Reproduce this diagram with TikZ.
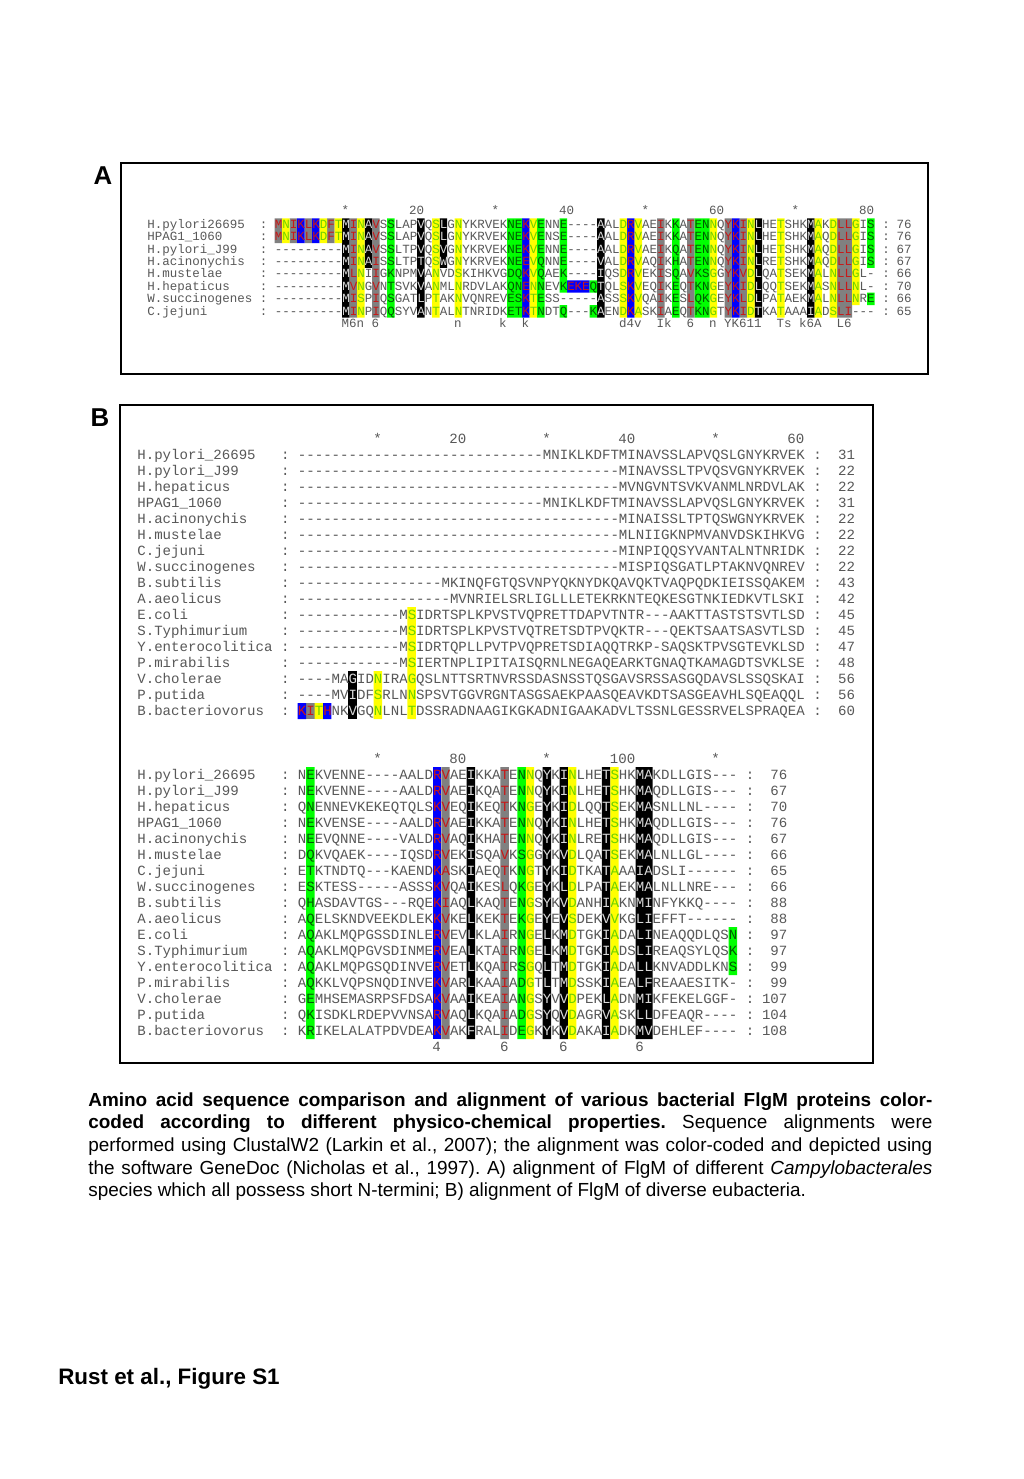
\documentclass[tikz,border=0pt]{standalone}
\usepackage{fontspec}
\setmainfont{Liberation Sans}
\newfontfamily\seqfont{Liberation Mono}[Ligatures=TeXOff]
\frenchspacing

\definecolor{seqtext}{RGB}{88,88,88}
\definecolor{shgrey}{RGB}{128,128,128}
\definecolor{shblue}{RGB}{0,0,255}
\definecolor{shyellow}{RGB}{255,255,0}
\definecolor{shgreen}{RGB}{0,255,0}
\definecolor{txred}{RGB}{200,24,24}
\definecolor{txgreen}{RGB}{110,210,0}
\definecolor{txdkgreen}{RGB}{0,90,0}

\tikzset{
	seqa/.style={font=\seqfont\fontsize{7.26}{8}\selectfont,inner sep=0pt,text=seqtext},
	seqb/.style={font=\seqfont\fontsize{8.18}{9}\selectfont,inner sep=0pt,text=seqtext},
	panel/.style={draw,line width=0.7pt},
	plabel/.style={font=\bfseries\fontsize{15}{18}\selectfont,inner sep=0pt}
}

% gaps and shaded cells
\newcommand\gap[1]{\foreach\i in {1,...,#1}{-}}
\newcommand\cellA[3]{(274.5+7.5*#1,205.9+12.4*#2) rectangle (282+7.5*#1,218.3+12.4*#3)}
\newcommand\cellB[4]{(297.6+8.45*#1,#4-8+16*#2) rectangle (306.05+8.45*#1,#4+8+16*#3)}

% panel A data
\def\namesA{H.pylori26695/76,HPAG1\_1060/76,H.pylori\_J99/67,H.acinonychis/67,H.mustelae/66,H.hepaticus/70,W.succinogenes/66,C.jejuni/65}
\def\seqA{%
MNIKLKDFTMINAVSSLAPVQSLGNYKRVEKNEKVENNE----AALDRVAEIKKATENNQYKINLHETSHKMAKDLLGIS,%
MNIKLKDFTMINAVSSLAPVQSLGNYKRVEKNEKVENSE----AALDRVAEIKKATENNQYKINLHETSHKMAQDLLGIS,%
\gap{9}MINAVSSLTPVQSVGNYKRVEKNEKVENNE----AALDRVAEIKQATENNQYKINLHETSHKMAQDLLGIS,%
\gap{9}MINAISSLTPTQSWGNYKRVEKNEEVQNNE----VALDRVAQIKHATENNQYKINLRETSHKMAQDLLGIS,%
\gap{9}MLNIIGKNPMVANVDSKIHKVGDQKVQAEK----IQSDRVEKISQAVKSGGYKVDLQATSEKMALNLLGL-,%
\gap{9}MVNGVNTSVKVANMLNRDVLAKQNENNEVKEKEQTQLSKVEQIKEQTKNGEYKIDLQQTSEKMASNLLNL-,%
\gap{9}MISPIQSGATLPTAKNVQNREVESKTESS-----ASSSKVQAIKESLQKGEYKLDLPATAEKMALNLLNRE,%
\gap{9}MINPIQQSYVANTALNTNRIDKETKTNDTQ---KAENDKASKIAEQTKNGTYKIDTKATAAAIADSLI---}
\def\blackA{9/1/8,12/1/4,19/1/8,22/1/4,43/1/8,64/1/8,71/1/8}
\def\greyA{0/1/2,2/1/2,4/1/2,7/1/2,10/1/8,13/1/8,51/1/8,55/1/8,60/1/8,62/1/8,75/1/8,76/1/8}
\def\blueA{3/1/2,5/1/2,33/1/8,47/1/8,61/1/8,39/6/6,40/6/6,41/6/6}
\def\yellowA{1/1/2,6/1/2,8/1/2,11/1/8,21/1/8,24/1/8,34/1/8,46/1/8,48/1/8,58/1/8,63/1/8,67/1/8,72/1/8,74/1/8,77/1/7}
\def\greenA{15/1/8,31/1/8,32/1/8,35/1/8,38/1/6,38/8/8,42/6/6,42/8/8,53/1/8,56/1/8,57/1/8,79/1/4,79/7/7}
\newcommand\rowsA[1]{\foreach \sq [count=\r] in \seqA {\node[seqa,text=#1,anchor=base west] (seqA\r) at (274.5,{215.9+12.4*\r}) {\sq};}}

% panel B data
\def\namesB{H.pylori\_26695/31/76,H.pylori\_J99/22/67,H.hepaticus/22/70,HPAG1\_1060/31/76,H.acinonychis/22/67,H.mustelae/22/66,C.jejuni/22/65,W.succinogenes/22/66,B.subtilis/43/88,A.aeolicus/42/88,E.coli/45/97,S.Typhimurium/45/97,Y.enterocolitica/47/99,P.mirabilis/48/99,V.cholerae/56/107,P.putida/56/104,B.bacteriovorus/60/108}
\def\seqBt{%
\gap{29}MNIKLKDFTMINAVSSLAPVQSLGNYKRVEK,%
\gap{38}MINAVSSLTPVQSVGNYKRVEK,%
\gap{38}MVNGVNTSVKVANMLNRDVLAK,%
\gap{29}MNIKLKDFTMINAVSSLAPVQSLGNYKRVEK,%
\gap{38}MINAISSLTPTQSWGNYKRVEK,%
\gap{38}MLNIIGKNPMVANVDSKIHKVG,%
\gap{38}MINPIQQSYVANTALNTNRIDK,%
\gap{38}MISPIQSGATLPTAKNVQNREV,%
\gap{17}MKINQFGTQSVNPYQKNYDKQAVQKTVAQPQDKIEISSQAKEM,%
\gap{18}MVNRIELSRLIGLLLETEKRKNTEQKESGTNKIEDKVTLSKI,%
\gap{12}MSIDRTSPLKPVSTVQPRETTDAPVTNTR---AAKTTASTSTSVTLSD,%
\gap{12}MSIDRTSPLKPVSTVQTRETSDTPVQKTR---QEKTSAATSASVTLSD,%
\gap{12}MSIDRTQPLLPVTPVQPRETSDIAQQTRKP-SAQSKTPVSGTEVKLSD,%
\gap{12}MSIERTNPLIPITAISQRNLNEGAQEARKTGNAQTKAMAGDTSVKLSE,%
\gap{4}MAGIDNIRAGQSLNTTSRTNVRSSDASNSSTQSGAVSRSSASGQDAVSLSSQSKAI,%
\gap{4}MVIDFSRLNNSPSVTGGVRGNTASGSAEKPAASQEAVKDTSASGEAVHLSQEAQQL,%
KITHNKVGQNLNLTDSSRADNAAGIKGKADNIGAAKADVLTSSNLGESSRVELSPRAQEA}
\def\seqBb{%
NEKVENNE----AALDRVAEIKKATENNQYKINLHETSHKMAKDLLGIS---,%
NEKVENNE----AALDRVAEIKQATENNQYKINLHETSHKMAQDLLGIS---,%
QNENNEVKEKEQTQLSKVEQIKEQTKNGEYKIDLQQTSEKMASNLLNL----,%
NEKVENSE----AALDRVAEIKKATENNQYKINLHETSHKMAQDLLGIS---,%
NEEVQNNE----VALDRVAQIKHATENNQYKINLRETSHKMAQDLLGIS---,%
DQKVQAEK----IQSDRVEKISQAVKSGGYKVDLQATSEKMALNLLGL----,%
ETKTNDTQ---KAENDKASKIAEQTKNGTYKIDTKATAAAIADSLI------,%
ESKTESS-----ASSSKVQAIKESLQKGEYKLDLPATAEKMALNLLNRE---,%
QHASDAVTGS---RQEKIAQLKAQTENGSYKVDANHIAKNMINFYKKQ----,%
AQELSKNDVEEKDLEKKVKELKEKTEKGEYEVSDEKVVKGLIEFFT------,%
AQAKLMQPGSSDINLERVEVLKLAIRNGELKMDTGKIADALINEAQQDLQSN,%
AQAKLMQPGVSDINMERVEALKTAIRNGELKMDTGKIADSLIREAQSYLQSK,%
AQAKLMQPGSQDINVERVETLKQAIRSGQLTMDTGKIADALLKNVADDLKNS,%
AQKKLVQPSNQDINVEKVARLKAAIADGTLTMDSSKIAEALFREAAESITK-,%
GEMHSEMASRPSFDSAKVAAIKEAIANGSYVVDPEKLADNMIKFEKELGGF-,%
QKISDKLRDEPVVNSARVAQLKQAIADGSYQVDAGRVASKLLDFEAQR----,%
KRIKELALATPDVDEAKVAKFRALIDEGKYKVDAKAIADKMVDEHLEF----}
\def\blackBt{6/15/17}
\def\greyBt{1/17/17}
\def\blueBt{0/17/17,3/17/17}
\def\yellowBt{2/17/17,9/15/17,13/11/17}
\def\blackBb{20/1/17,29/1/17,31/1/17,36/1/17,40/1/17,41/1/17}
\def\greyBb{17/1/17,24/1/17}
\def\blueBb{16/1/17}
\def\yellowBb{27/1/17,32/1/17,37/1/17}
\def\greenBb{1/1/17,26/1/17,51/11/13}
\newcommand\rowsB[3]{\foreach \sq [count=\r] in #2 {\node[seqb,text=#1,anchor=base west] (seqB#3-\r) at (297.6,{#3+4.2+16*\r}) {\sq};}}

\begin{document}
\begin{tikzpicture}[x=0.581pt,y=-0.581pt]
	%%%%% START %%%%%
	\fill[white] (0,0) rectangle (1024,1479);
	\useasboundingbox (0,0) rectangle (1024,1479);
	
	%%%%% panel A %%%%%
	\draw[panel] (121,163) rectangle (928,374);
	\node[plabel] (labA) at (103,176) {A};
	\foreach \c/\t in {9/*,19/20,29/*,39/40,49/*,59/60,69/*,79/80}
		\node[seqa,anchor=base east] (headA\c) at ({274.5+7.5*(\c+1)},214.8) {\t};
	\foreach \nm/\num [count=\r] in \namesA {
		\node[seqa,anchor=base west] (nameA\r) at (147,{215.9+12.4*\r}) {\nm};
		\node[seqa,anchor=base west] (colA\r) at (259.5,{215.9+12.4*\r}) {:};
		\node[seqa,anchor=base west] (endA\r) at (882,{215.9+12.4*\r}) {:};
		\node[seqa,anchor=base east] (numA\r) at (912,{215.9+12.4*\r}) {\num};
	}
	\rowsA{seqtext}
	\fill[black] \foreach \c/\a/\b in \blackA {\cellA\c\a\b};
	\fill[shgrey] \foreach \c/\a/\b in \greyA {\cellA\c\a\b};
	\fill[shblue] \foreach \c/\a/\b in \blueA {\cellA\c\a\b};
	\fill[shyellow] \foreach \c/\a/\b in \yellowA {\cellA\c\a\b};
	\fill[shgreen] \foreach \c/\a/\b in \greenA {\cellA\c\a\b};
	\begin{scope}
		\clip \foreach \c/\a/\b in \blackA {\cellA\c\a\b};
		\rowsA{white!85!black}
	\end{scope}
	\begin{scope}
		\clip \foreach \c/\a/\b in \greyA {\cellA\c\a\b} \foreach \c/\a/\b in \blueA {\cellA\c\a\b};
		\rowsA{txred}
	\end{scope}
	\begin{scope}
		\clip \foreach \c/\a/\b in \yellowA {\cellA\c\a\b};
		\rowsA{txgreen}
	\end{scope}
	\begin{scope}
		\clip \foreach \c/\a/\b in \greenA {\cellA\c\a\b};
		\rowsA{txdkgreen}
	\end{scope}
	\foreach \c/\t in {9/M,10/6,11/n,13/6,24/n,30/k,33/k,46/d,47/4,48/v,51/I,52/k,55/6,58/n,60/Y,61/K,62/6,63/1,64/1,67/T,68/s,70/k,71/6,72/A,75/L,76/6}
		\node[seqa,anchor=base east] (consA\c) at ({274.5+7.5*(\c+1)},327.5) {\t};
	
	%%%%% panel B %%%%%
	\draw[panel] (120,405) rectangle (873,1063);
	\node[plabel] (labB) at (100,418) {B};
	\foreach \c/\t in {9/*,19/20,29/*,39/40,49/*,59/60}
		\node[seqb,anchor=base east] (headBt\c) at ({297.6+8.45*(\c+1)},443.2) {\t};
	\foreach \c/\t in {9/*,19/80,29/*,39/100,49/*}
		\node[seqb,anchor=base east] (headBb\c) at ({297.6+8.45*(\c+1)},763.2) {\t};
	\foreach \nm/\nt/\nb [count=\r] in \namesB {
		\node[seqb,anchor=base west] (nameBt\r) at (137.05,{443.2+16*\r}) {\nm};
		\node[seqb,anchor=base west] (colBt\r) at (280.7,{443.2+16*\r}) {:};
		\node[seqb,anchor=base west] (endBt\r) at (813.05,{443.2+16*\r}) {:};
		\node[seqb,anchor=base east] (numBt\r) at (855.3,{443.2+16*\r}) {\nt};
		\node[seqb,anchor=base west] (nameBb\r) at (137.05,{763.2+16*\r}) {\nm};
		\node[seqb,anchor=base west] (colBb\r) at (280.7,{763.2+16*\r}) {:};
		\node[seqb,anchor=base west] (endBb\r) at (745.45,{763.2+16*\r}) {:};
		\node[seqb,anchor=base east] (numBb\r) at (787.7,{763.2+16*\r}) {\nb};
	}
	\rowsB{seqtext}{\seqBt}{439}
	\rowsB{seqtext}{\seqBb}{759}
	% top block shading
	\fill[black] \foreach \c/\a/\b in \blackBt {\cellB\c\a\b{439}};
	\fill[shgrey] \foreach \c/\a/\b in \greyBt {\cellB\c\a\b{439}};
	\fill[shblue] \foreach \c/\a/\b in \blueBt {\cellB\c\a\b{439}};
	\fill[shyellow] \foreach \c/\a/\b in \yellowBt {\cellB\c\a\b{439}};
	\begin{scope}
		\clip \foreach \c/\a/\b in \blackBt {\cellB\c\a\b{439}};
		\rowsB{white!85!black}{\seqBt}{439}
	\end{scope}
	\begin{scope}
		\clip \foreach \c/\a/\b in \greyBt {\cellB\c\a\b{439}} \foreach \c/\a/\b in \blueBt {\cellB\c\a\b{439}};
		\rowsB{txred}{\seqBt}{439}
	\end{scope}
	\begin{scope}
		\clip \foreach \c/\a/\b in \yellowBt {\cellB\c\a\b{439}};
		\rowsB{txgreen}{\seqBt}{439}
	\end{scope}
	% bottom block shading
	\fill[black] \foreach \c/\a/\b in \blackBb {\cellB\c\a\b{759}};
	\fill[shgrey] \foreach \c/\a/\b in \greyBb {\cellB\c\a\b{759}};
	\fill[shblue] \foreach \c/\a/\b in \blueBb {\cellB\c\a\b{759}};
	\fill[shyellow] \foreach \c/\a/\b in \yellowBb {\cellB\c\a\b{759}};
	\fill[shgreen] \foreach \c/\a/\b in \greenBb {\cellB\c\a\b{759}};
	\begin{scope}
		\clip \foreach \c/\a/\b in \blackBb {\cellB\c\a\b{759}};
		\rowsB{white!85!black}{\seqBb}{759}
	\end{scope}
	\begin{scope}
		\clip \foreach \c/\a/\b in \greyBb {\cellB\c\a\b{759}} \foreach \c/\a/\b in \blueBb {\cellB\c\a\b{759}};
		\rowsB{txred}{\seqBb}{759}
	\end{scope}
	\begin{scope}
		\clip \foreach \c/\a/\b in \yellowBb {\cellB\c\a\b{759}};
		\rowsB{txgreen}{\seqBb}{759}
	\end{scope}
	\begin{scope}
		\clip \foreach \c/\a/\b in \greenBb {\cellB\c\a\b{759}};
		\rowsB{txdkgreen}{\seqBb}{759}
	\end{scope}
	\foreach \c/\t in {16/4,24/6,31/6,40/6}
		\node[seqb,anchor=base east] (consB\c) at ({297.6+8.45*(\c+1)},1051.2) {\t};
	
	%%%%% caption %%%%%
	\node[anchor=base west,inner sep=0pt,text width=490.4pt,align=justify,font=\fontsize{11}{13.2}\selectfont] (caption) at (88,1106) {\textbf{Amino acid sequence comparison and alignment of various bacterial FlgM proteins color-}\linebreak \textbf{coded according to different physico-chemical properties.} Sequence alignments were\linebreak performed using ClustalW2 (Larkin et al., 2007); the alignment was color-coded and depicted using\linebreak the software GeneDoc (Nicholas et al., 1997). A) alignment of FlgM of different \textit{Campylobacterales}\linebreak species which all possess short N-termini; B) alignment of FlgM of diverse eubacteria.};
	\node[anchor=base west,inner sep=0pt,font=\bfseries\fontsize{13}{15}\selectfont] (figname) at (58,1384) {Rust et al., Figure S1};
	%%%%% END %%%%%
\end{tikzpicture}
\end{document}
